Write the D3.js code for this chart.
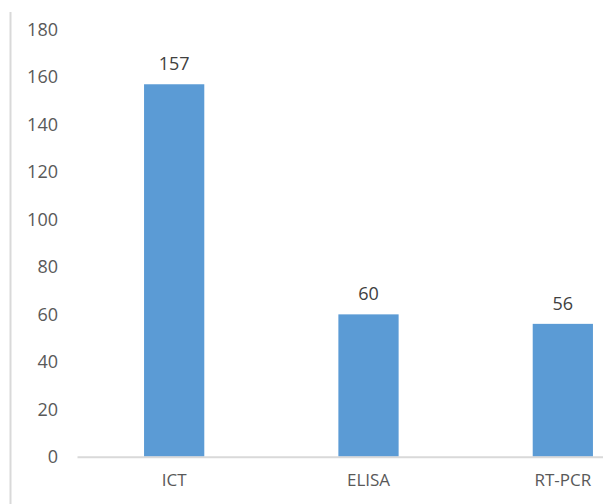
<!DOCTYPE html>
<html>
<head>
<meta charset="utf-8">
<script src="https://cdn.jsdelivr.net/npm/d3@7"></script>
<style>
  html, body { margin: 0; padding: 0; background: #fff; }
  svg { display: block; }
</style>
</head>
<body>
<div id="chart"></div>
<script>
// chart data
var categories = ["ICT", "ELISA", "RT-PCR"];
var values = [157, 60, 56];
var yTicks = [0, 20, 40, 60, 80, 100, 120, 140, 160, 180];

var width = 603, height = 504;
var plot = {left: 77, right: 660, top: 29.7, bottom: 456.7};

var svg = d3.select("#chart")
    .append("svg")
    .attr("width", width)
    .attr("height", height);

// left border line of the picture
svg.append("line")
    .attr("x1", 10.5).attr("x2", 10.5)
    .attr("y1", 12).attr("y2", height)
    .attr("stroke", "#d9d9d9")
    .attr("stroke-width", 2);

var x = d3.scaleBand()
    .domain(categories)
    .range([plot.left, plot.right])
    .paddingInner(0.69)
    .paddingOuter(0.345);

var y = d3.scaleLinear()
    .domain([0, 180])
    .range([plot.bottom, plot.top]);

var font = "'Open Sans', 'DejaVu Sans', sans-serif";

// y axis labels (no line, no ticks)
var yAxis = svg.append("g")
    .attr("transform", "translate(" + (plot.left - 19) + ",0)")
    .call(d3.axisLeft(y).tickValues(yTicks).tickSize(0).tickPadding(0));
yAxis.select(".domain").remove();
yAxis.selectAll("text")
    .style("font-family", font)
    .style("font-size", "18px")
    .attr("fill", "#595959");

// bars
svg.selectAll(".bar")
    .data(values)
    .enter().append("rect")
    .attr("class", "bar")
    .attr("x", function (d, i) { return x(categories[i]); })
    .attr("y", function (d) { return y(d); })
    .attr("width", x.bandwidth())
    .attr("height", function (d) { return y(0) - y(d); })
    .attr("fill", "#5b9bd5");

// x axis
var xAxis = svg.append("g")
    .attr("transform", "translate(0," + plot.bottom + ")")
    .call(d3.axisBottom(x).tickSize(0).tickPadding(17));
xAxis.select(".domain")
    .attr("stroke", "#d9d9d9")
    .attr("stroke-width", 2);
xAxis.selectAll("text")
    .style("font-family", font)
    .style("font-size", "17px")
    .attr("fill", "#595959");

// value labels on top of bars
svg.selectAll(".label")
    .data(values)
    .enter().append("text")
    .attr("class", "label")
    .attr("x", function (d, i) { return x(categories[i]) + x.bandwidth() / 2; })
    .attr("y", function (d) { return y(d) - 14; })
    .attr("text-anchor", "middle")
    .style("font-family", font)
    .style("font-size", "18px")
    .attr("fill", "#404040")
    .text(function (d) { return d; });
</script>
</body>
</html>
